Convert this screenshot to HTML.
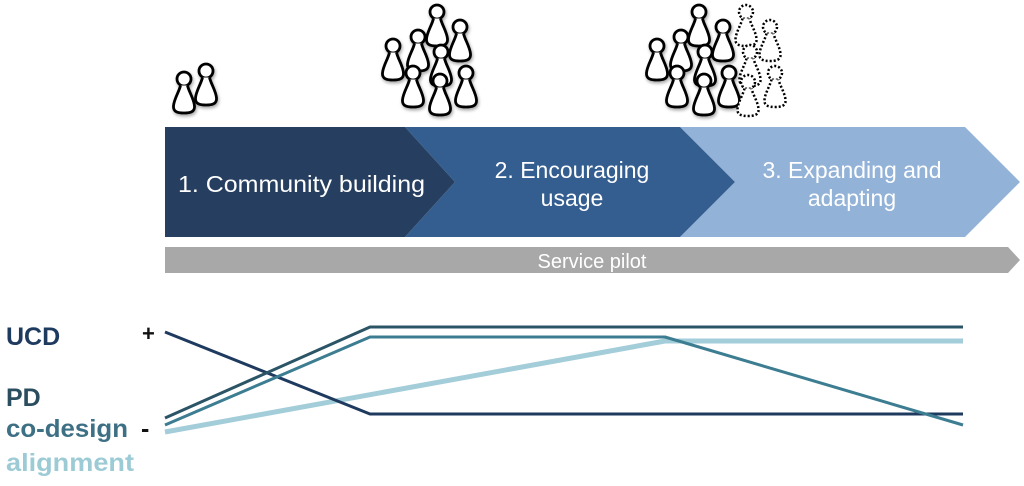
<!DOCTYPE html>
<html><head><meta charset="utf-8"><style>
html,body{margin:0;padding:0;background:#fff;width:1024px;height:486px;overflow:hidden}
svg{display:block}
.t{font-family:"Liberation Sans Narrow","Liberation Sans",sans-serif;fill:#fff;font-size:23px}
.l{font-family:"Liberation Sans Narrow","Liberation Sans",sans-serif;font-weight:bold;font-size:25px}
</style></head><body>
<svg width="1024" height="486" viewBox="0 0 1024 486" xmlns="http://www.w3.org/2000/svg">
<defs>
<filter id="sh" x="-30%" y="-30%" width="160%" height="160%"><feDropShadow dx="1" dy="2" stdDeviation="1.5" flood-opacity="0.35"/></filter>
<g id="p"><circle cx="0" cy="0" r="7"/><path d="M-3.5,6.5 C-5,13 -10,20 -10.5,27 C-11,33 -6,34 0,34 C6,34 11,33 10.5,27 C10,20 5,13 3.5,6.5"/></g>
</defs>
<g fill="#fff" stroke="#000" stroke-width="2.8" filter="url(#sh)">
<use href="#p" x="184" y="79"/><use href="#p" x="206" y="71"/>
<use href="#p" x="393" y="46"/><use href="#p" x="418" y="37"/><use href="#p" x="437" y="12"/><use href="#p" x="460" y="27"/><use href="#p" x="441" y="52"/><use href="#p" x="413" y="73"/><use href="#p" x="440" y="81"/><use href="#p" x="466" y="73"/>
<use href="#p" x="657" y="46"/><use href="#p" x="681" y="37"/><use href="#p" x="699" y="12"/><use href="#p" x="723" y="27"/><use href="#p" x="705" y="52"/><use href="#p" x="677" y="73"/><use href="#p" x="704" y="81"/><use href="#p" x="729" y="73"/>
</g>
<g fill="#fff" stroke="#000" stroke-width="2.5" stroke-dasharray="2 2">
<use href="#p" x="746" y="12"/><use href="#p" x="770" y="27"/><use href="#p" x="750" y="52"/><use href="#p" x="775" y="73"/><use href="#p" x="748" y="82"/>
</g>
<polygon points="680,127 965,127 1020,182 965,237 680,237 735,182" fill="#93b2d8"/>
<polygon points="405,127 680,127 735,182 680,237 405,237 455,182" fill="#355e90"/>
<polygon points="165,127 405,127 455,182 405,237 165,237" fill="#263f60"/>
<text class="t" x="178" y="192" textLength="247" lengthAdjust="spacingAndGlyphs">1. Community building</text>
<text class="t" x="572" y="178" text-anchor="middle">2. Encouraging</text>
<text class="t" x="572" y="206" text-anchor="middle">usage</text>
<text class="t" x="852" y="178" text-anchor="middle">3. Expanding and</text>
<text class="t" x="852" y="206" text-anchor="middle">adapting</text>
<polygon points="165,247 1008,247 1020,260 1008,273 165,273" fill="#a8a8a8"/>
<text class="t" x="592" y="268" text-anchor="middle" style="font-size:20px">Service pilot</text>
<g fill="none" stroke-linejoin="round">
<polyline points="165,432 665,341 963,341" stroke="#a3cdd8" stroke-width="5"/>
<polyline points="165,332 370,414 963,414" stroke="#1f3a5f" stroke-width="3"/>
<polyline points="165,418 370,327 963,327" stroke="#2b5566" stroke-width="3"/>
<polyline points="165,425 370,337 665,337 963,425" stroke="#3d7d92" stroke-width="3"/>
</g>
<text class="l" x="6" y="345" fill="#1f3a5f">UCD</text>
<text class="l" x="142" y="341" fill="#111" style="font-size:22px">+</text>
<text class="l" x="6" y="406" fill="#2b4d60">PD</text>
<text class="l" x="6" y="437" fill="#3d6f85" textLength="122" lengthAdjust="spacingAndGlyphs">co-design</text>
<text class="l" x="141" y="437" fill="#111">-</text>
<text class="l" x="6" y="471" fill="#9ccbd6" textLength="128" lengthAdjust="spacingAndGlyphs">alignment</text>
</svg>
</body></html>
